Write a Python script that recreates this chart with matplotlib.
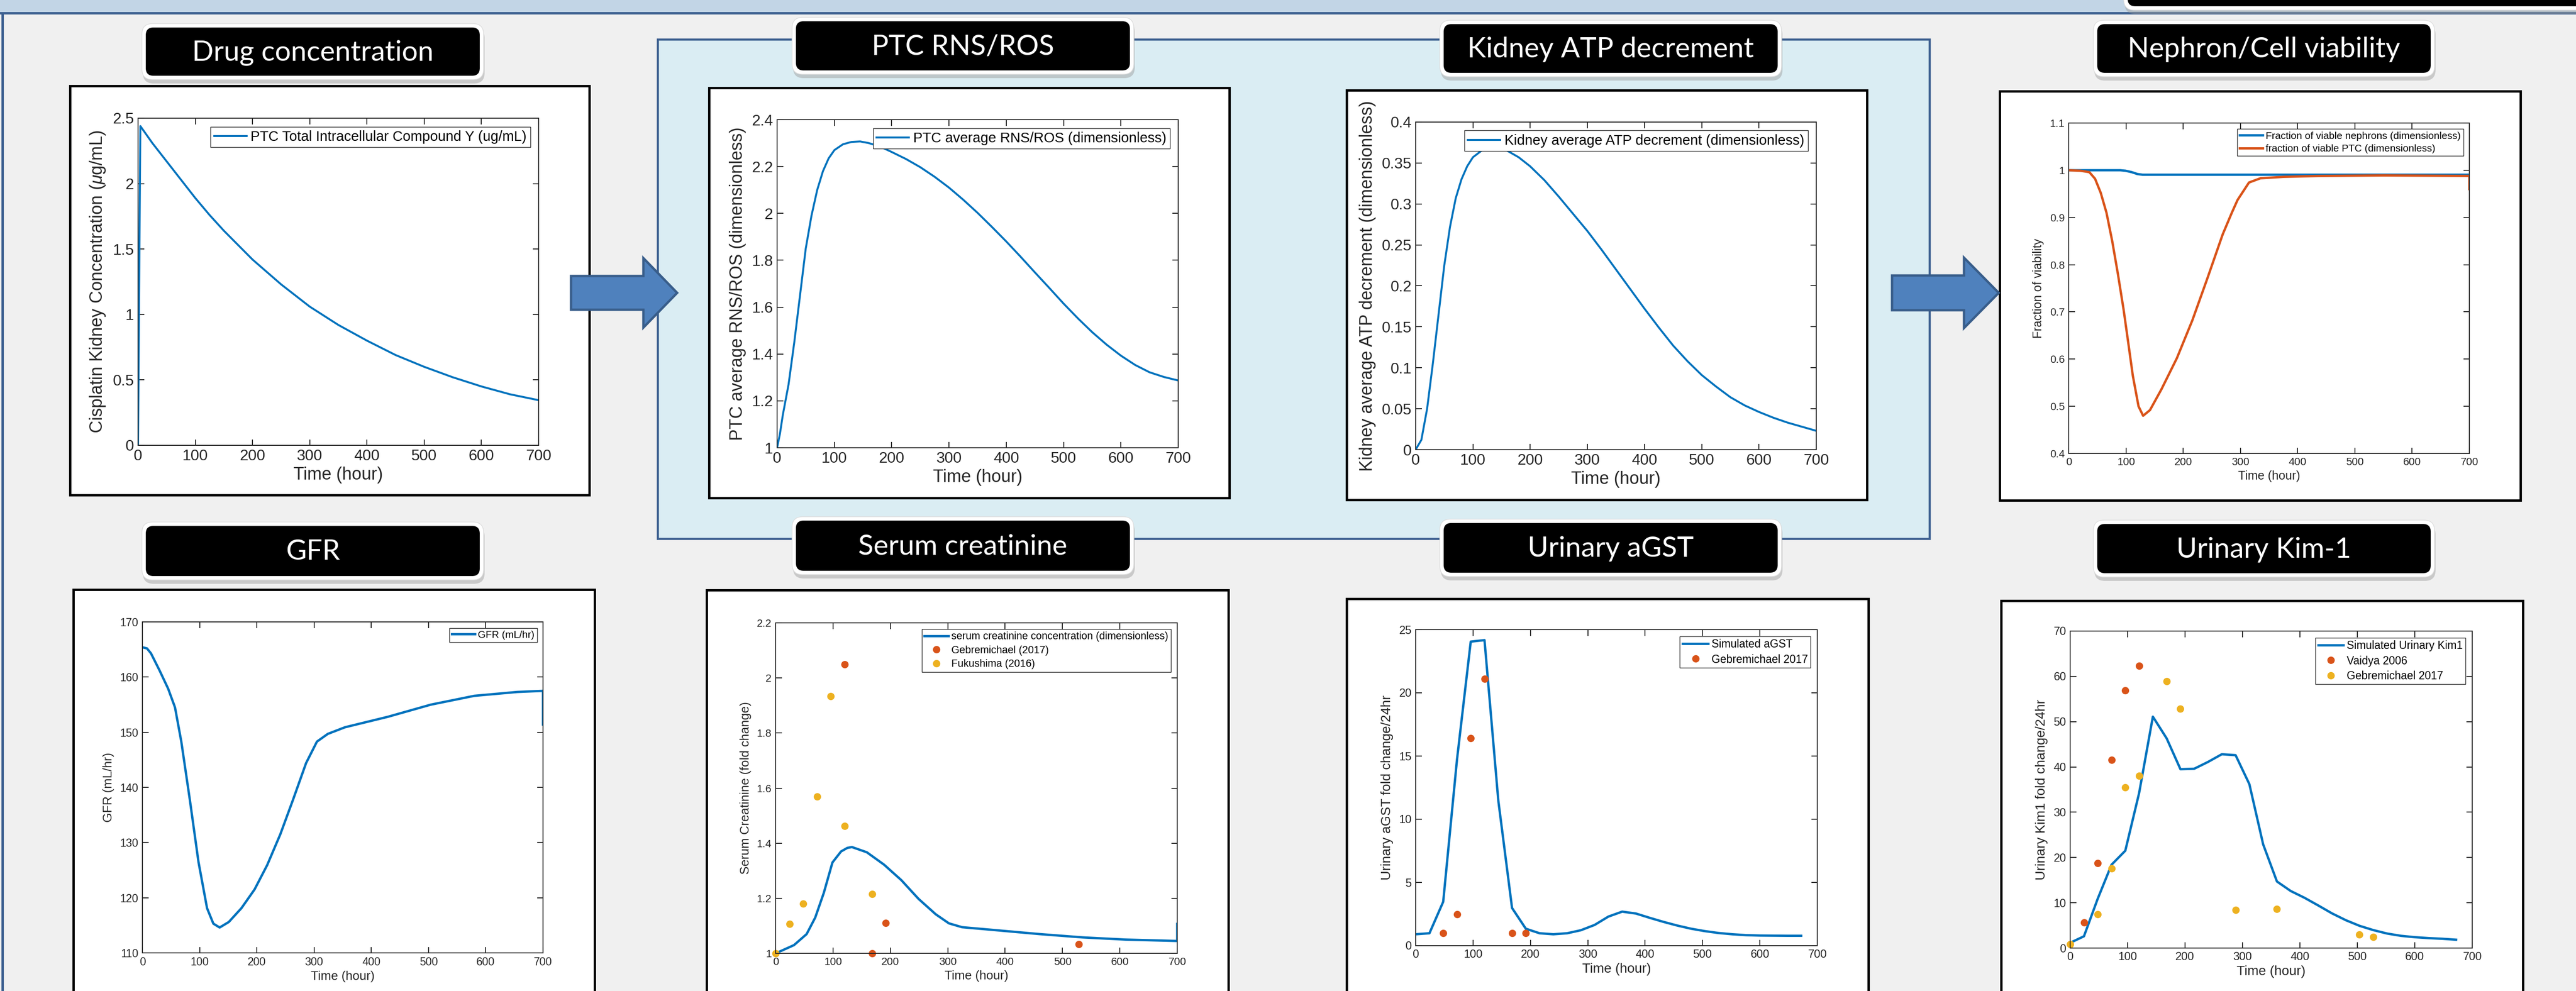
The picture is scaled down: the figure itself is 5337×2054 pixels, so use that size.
import matplotlib.pyplot as plt
from matplotlib.patches import FancyBboxPatch, Rectangle, Polygon

W, H = 5337, 2054
DPI = 100

BLUE = '#0072BD'
ORANGE = '#D95319'
YELLOW = '#EDB120'
FRAME_BLUE = '#3d6090'

# ---- data ----
hours = [0, 100, 200, 300, 400, 500, 600, 700]

drug_t = [0, 4, 25, 50, 75, 100, 125, 150, 200, 250, 300, 350, 400, 450, 500, 550, 600, 650, 700]
drug_c = [0, 2.44, 2.31, 2.17, 2.03, 1.89, 1.76, 1.64, 1.42, 1.23, 1.06, 0.92, 0.80, 0.69, 0.60,
          0.52, 0.45, 0.39, 0.345]

ros_t = [0, 5, 10, 20, 30, 40, 50, 60, 70, 80, 90, 100, 115, 130, 145, 160, 180, 200, 225, 250,
         275, 300, 325, 350, 375, 400, 425, 450, 475, 500, 525, 550, 575, 600, 625, 650, 675, 700]
ros_v = [1.0, 1.06, 1.14, 1.27, 1.45, 1.65, 1.85, 1.99, 2.10, 2.18, 2.235, 2.27, 2.295, 2.305,
         2.307, 2.30, 2.285, 2.262, 2.232, 2.197, 2.156, 2.11, 2.058, 2.002, 1.942, 1.88, 1.815,
         1.748, 1.682, 1.615, 1.552, 1.493, 1.44, 1.393, 1.353, 1.322, 1.302, 1.287]

atp_t = [0, 10, 20, 30, 40, 50, 60, 70, 80, 90, 100, 115, 130, 145, 160, 180, 200, 225, 250, 275,
         300, 325, 350, 375, 400, 425, 450, 475, 500, 525, 550, 575, 600, 625, 650, 675, 700]
atp_v = [0, 0.012, 0.05, 0.105, 0.165, 0.225, 0.272, 0.307, 0.330, 0.346, 0.357, 0.365, 0.368,
         0.368, 0.365, 0.357, 0.346, 0.329, 0.309, 0.288, 0.267, 0.244, 0.220, 0.196, 0.172,
         0.149, 0.127, 0.108, 0.091, 0.077, 0.064, 0.054, 0.046, 0.039, 0.033, 0.028, 0.023]

neph_t = [0, 90, 99, 110, 120, 129, 200, 400, 600, 700]
neph_v = [1.0, 1.0, 0.999, 0.996, 0.992, 0.9905, 0.9905, 0.9905, 0.9905, 0.9905]
ptc_t = [0, 20, 36, 46, 56, 66, 76, 86, 96, 104, 112, 122, 130, 142, 162, 189, 216, 242, 269,
         285, 295, 315, 335, 375, 442, 550, 700, 700]
ptc_v = [1.0, 0.999, 0.996, 0.982, 0.952, 0.91, 0.85, 0.78, 0.704, 0.635, 0.565, 0.50, 0.48,
         0.492, 0.536, 0.602, 0.682, 0.77, 0.864, 0.91, 0.937, 0.974, 0.983, 0.986, 0.988,
         0.989, 0.988, 0.96]

gfr_t = [0, 8, 15, 30, 45, 57, 68, 83, 98, 113, 124, 135, 151, 173, 196, 218, 241, 263, 286,
         305, 324, 354, 429, 504, 580, 655, 700, 700]
gfr_v = [165.4, 165.2, 164.3, 161.2, 157.9, 154.5, 148.3, 137.7, 126.5, 118.1, 115.3, 114.6,
         115.6, 118.1, 121.5, 125.9, 131.5, 137.7, 144.4, 148.3, 149.7, 150.9, 152.8, 155.0,
         156.6, 157.3, 157.5, 151.4]

scr_t = [0, 32, 54, 69, 84, 99, 114, 125, 133, 159, 189, 219, 249, 279, 302, 325, 385, 460,
         535, 610, 700, 700]
scr_v = [1.0, 1.03, 1.07, 1.13, 1.22, 1.33, 1.37, 1.383, 1.386, 1.367, 1.322, 1.266, 1.198,
         1.142, 1.109, 1.095, 1.084, 1.07, 1.058, 1.05, 1.045, 1.107]
scr_geb_t = [120, 168, 192, 528]
scr_geb_v = [2.05, 1.0, 1.11, 1.033]
scr_fuk_t = [0, 24, 48, 72, 96, 120, 168]
scr_fuk_v = [1.0, 1.107, 1.18, 1.569, 1.933, 1.462, 1.215]

day_t = [0, 24, 48, 72, 96, 120, 144, 168, 192, 216, 240, 264, 288, 312, 336, 360, 384, 408,
         432, 456, 480, 504, 528, 552, 576, 600, 624, 648, 672]
agst_v = [0.9, 0.98, 3.47, 14.7, 24.05, 24.17, 11.5, 2.98, 1.34, 0.98, 0.9, 0.98, 1.22, 1.64,
          2.3, 2.69, 2.54, 2.2, 1.88, 1.59, 1.34, 1.15, 1.0, 0.9, 0.83, 0.8, 0.79, 0.78, 0.78]
agst_geb_t = [48, 72, 96, 120, 168, 192]
agst_geb_v = [1.0, 2.5, 16.4, 21.1, 1.0, 1.0]

kim_v = [1.16, 2.6, 10.9, 18.4, 21.5, 34.2, 51.1, 46.3, 39.5, 39.6, 41.1, 42.8, 42.6, 36.2,
         22.9, 14.7, 12.6, 11.1, 9.4, 7.65, 6.15, 4.9, 3.96, 3.2, 2.7, 2.4, 2.2, 2.05, 1.84]
kim_vai_t = [24, 48, 72, 96, 120]
kim_vai_v = [5.7, 18.8, 41.5, 56.9, 62.3]
kim_geb_t = [0, 48, 72, 96, 120, 168, 192, 288, 360, 503, 528]
kim_geb_v = [0.9, 7.5, 17.6, 35.5, 38.0, 58.9, 52.8, 8.4, 8.6, 3.0, 2.4]

plt.rcParams['font.family'] = ['Liberation Sans', 'DejaVu Sans']
plt.rcParams['mathtext.fontset'] = 'custom'
plt.rcParams['mathtext.it'] = 'Liberation Sans:italic'

fig = plt.figure(figsize=(W / DPI, H / DPI), dpi=DPI, facecolor='#f0f0f0')
bg = fig.add_axes([0, 0, 1, 1])
bg.set_xlim(0, W)
bg.set_ylim(H, 0)
bg.axis('off')

# poster background pieces
bg.add_patch(Rectangle((0, 0), W, 26, fc='#c2d5e6', ec='none'))
bg.add_patch(Rectangle((0, 25), W, 5, fc=FRAME_BLUE, ec='none'))
bg.add_patch(Rectangle((3, 25), 5, H, fc=FRAME_BLUE, ec='none'))
bg.add_patch(Rectangle((1363, 82), 3998 - 1363, 1117 - 82, fc='#daedf3', ec=FRAME_BLUE, lw=3.2))

frames = [(145, 178, 1221, 1026), (1469, 182, 2547, 1032), (2790, 187, 3868, 1036),
          (4143, 189, 5222, 1037), (152, 1222, 1232, 2100), (1464, 1223, 2545, 2100),
          (2790, 1241, 3871, 2100), (4146, 1245, 5227, 2100)]
for x0, y0, x1, y1 in frames:
    bg.add_patch(Rectangle((x0, y0), x1 - x0, y1 - y0, fc='white', ec='black', lw=3.5))


def block_arrow(x0, tip, yc, body_h, head_h, head_len):
    xh = tip - head_len
    pts = [(x0, yc - body_h), (xh, yc - body_h), (xh, yc - head_h), (tip, yc),
           (xh, yc + head_h), (xh, yc + body_h), (x0, yc + body_h)]
    bg.add_patch(Polygon(pts, closed=True, fc='#4f81bd', ec='#385d8a', lw=3.5, zorder=5))


block_arrow(1183, 1403, 607, 35, 72, 70)
block_arrow(3920, 4141, 607, 36, 73, 72)


def title_box(x0, y0, x1, y1, text):
    w, h = x1 - x0, y1 - y0
    bg.add_patch(FancyBboxPatch((x0 + 2, y0 + 8), w, h, boxstyle='round,pad=8,rounding_size=22',
                                fc='#9a9a9a', ec='none', alpha=0.45, zorder=6))
    bg.add_patch(FancyBboxPatch((x0, y0), w, h, boxstyle='round,pad=8,rounding_size=22',
                                fc='white', ec='#dddddd', lw=1, zorder=7))
    bg.add_patch(FancyBboxPatch((x0, y0), w, h, boxstyle='round,pad=0,rounding_size=16',
                                fc='black', ec='none', zorder=8))
    if text:
        bg.text((x0 + x1) / 2, (y0 + y1) / 2 + 2, text, color='white', ha='center', va='center',
                fontsize=42, family='Lato', zorder=9)


title_box(4408, -60, 5420, 13, '')
title_box(302, 57, 994, 157, 'Drug concentration')
title_box(1649, 44, 2341, 146, 'PTC RNS/ROS')
title_box(2991, 50, 3683, 151, 'Kidney ATP decrement')
title_box(4345, 50, 5036, 151, 'Nephron/Cell viability')
title_box(302, 1090, 994, 1194, 'GFR')
title_box(1649, 1079, 2341, 1183, 'Serum creatinine')
title_box(2991, 1084, 3683, 1187, 'Urinary aGST')
title_box(4345, 1086, 5036, 1188, 'Urinary Kim-1')


def chart(rect, ylim, yticks, ylabel, fs_tick, fs_lab, fs_leg):
    x0, y0, x1, y1 = rect
    ax = fig.add_axes([x0 / W, 1 - y1 / H, (x1 - x0) / W, (y1 - y0) / H])
    ax.set_xlim(0, 700)
    ax.set_ylim(*ylim)
    ax.set_xticks(hours)
    ax.set_yticks(yticks)
    ax.set_xticklabels(['%g' % v for v in hours])
    ax.set_yticklabels(['%g' % v for v in yticks])
    ax.tick_params(direction='in', top=True, right=True, length=9, width=1.4,
                   labelsize=fs_tick, labelcolor='#262626', color='#262626', pad=6)
    for s in ax.spines.values():
        s.set_color('#262626')
        s.set_linewidth(1.4)
    ax.set_xlabel('Time (hour)', fontsize=fs_lab, color='#262626', labelpad=4)
    ax.set_ylabel(ylabel, fontsize=fs_lab, color='#262626', labelpad=8)
    ax._fs_leg = fs_leg
    return ax


def legend(ax):
    ax.legend(loc='upper right', fontsize=ax._fs_leg, frameon=True, fancybox=False,
              framealpha=1, edgecolor='#262626', borderaxespad=0.6, borderpad=0.25,
              labelspacing=0.35, handlelength=2.3, handletextpad=0.3, numpoints=1)


# 1 drug concentration
ax = chart((286, 245, 1116, 923), (0, 2.5), [0, 0.5, 1, 1.5, 2, 2.5],
           r'Cisplatin Kidney Concentration ($\mu$g/mL)', 23, 26, 21)
ax.plot(drug_t, drug_c, color=BLUE, lw=2.9, label='PTC Total Intracellular Compound Y (ug/mL)')
legend(ax)

# 2 RNS/ROS
ax = chart((1610, 248, 2441, 928), (1, 2.4), [1, 1.2, 1.4, 1.6, 1.8, 2, 2.2, 2.4],
           'PTC average RNS/ROS (dimensionless)', 23, 26, 21)
ax.plot(ros_t, ros_v, color=BLUE, lw=2.9, label='PTC average RNS/ROS (dimensionless)')
legend(ax)

# 3 ATP decrement
ax = chart((2933, 253, 3763, 932), (0, 0.4), [0, 0.05, 0.1, 0.15, 0.2, 0.25, 0.3, 0.35, 0.4],
           'Kidney average ATP decrement (dimensionless)', 23, 26, 21)
ax.plot(atp_t, atp_v, color=BLUE, lw=2.9, label='Kidney average ATP decrement (dimensionless)')
legend(ax)

# 4 viability
ax = chart((4286, 255, 5116, 940), (0.4, 1.1), [0.4, 0.5, 0.6, 0.7, 0.8, 0.9, 1, 1.1],
           'Fraction of viability', 16, 18, 15)
ax.plot(neph_t, neph_v, color=BLUE, lw=3.5, label='Fraction of viable nephrons (dimensionless)')
ax.plot(ptc_t, ptc_v, color=ORANGE, lw=3.5, label='fraction of viable PTC (dimensionless)')
legend(ax)

# 5 GFR
ax = chart((295, 1289, 1125, 1975), (110, 170), [110, 120, 130, 140, 150, 160, 170],
           'GFR (mL/hr)', 16.5, 18.5, 15)
ax.plot(gfr_t, gfr_v, color=BLUE, lw=3.5, label='GFR (mL/hr)')
legend(ax)

# 6 serum creatinine
ax = chart((1607, 1291, 2439, 1976), (1, 2.2), [1, 1.2, 1.4, 1.6, 1.8, 2, 2.2],
           'Serum Creatinine (fold change)', 16, 18.5, 15.5)
ax.plot(scr_t, scr_v, color=BLUE, lw=3.5, label='serum creatinine concentration (dimensionless)')
ax.plot(scr_geb_t, scr_geb_v, 'o', color=ORANGE, ms=10, label='Gebremichael (2017)', clip_on=False)
ax.plot(scr_fuk_t, scr_fuk_v, 'o', color=YELLOW, ms=10, label='Fukushima (2016)', clip_on=False)
legend(ax)

# 7 urinary aGST
ax = chart((2933, 1305, 3765, 1960), (0, 25), [0, 5, 10, 15, 20, 25],
           'Urinary aGST fold change/24hr', 17, 20, 16.5)
ax.plot(day_t, agst_v, color=BLUE, lw=3.5, label='Simulated aGST')
ax.plot(agst_geb_t, agst_geb_v, 'o', color=ORANGE, ms=10, label='Gebremichael 2017')
legend(ax)

# 8 urinary Kim-1
ax = chart((4289, 1308, 5122, 1965), (0, 70), [0, 10, 20, 30, 40, 50, 60, 70],
           'Urinary Kim1 fold change/24hr', 17, 20, 16.5)
ax.plot(day_t, kim_v, color=BLUE, lw=3.5, label='Simulated Urinary Kim1')
ax.plot(kim_vai_t, kim_vai_v, 'o', color=ORANGE, ms=10, label='Vaidya 2006')
ax.plot(kim_geb_t, kim_geb_v, 'o', color=YELLOW, ms=10, label='Gebremichael 2017', clip_on=False)
legend(ax)

fig.savefig('out.png', dpi=DPI, facecolor=fig.get_facecolor())
